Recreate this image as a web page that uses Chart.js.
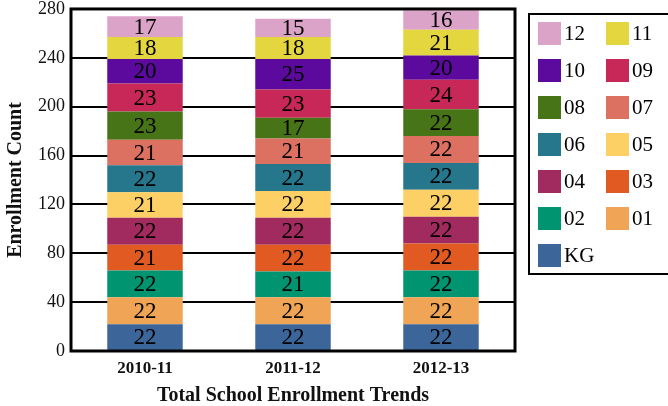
<!DOCTYPE html>
<html>
<head>
<meta charset="utf-8">
<script src="https://cdn.jsdelivr.net/npm/chart.js@4"></script>
<style>
  html, body { margin: 0; padding: 0; background: #fff; }
  #wrap { width: 668px; height: 406px; position: relative; }
</style>
</head>
<body>
<div id="wrap"><canvas id="enrollChart" width="668" height="406"></canvas></div>
<script>
const years = ["2010-11", "2011-12", "2012-13"];
const grades = ["KG", "01", "02", "03", "04", "05", "06", "07", "08", "09", "10", "11", "12"];
const gradeColors = ["#3c6699", "#f0a455", "#009471", "#e05a21", "#a12b5e", "#fdd066",
    "#26768c", "#dc7061", "#477416", "#c82858", "#5b0a9d", "#e4d63e", "#dba3c8"];

// counts per grade, one entry per school year
const kg = [22, 22, 22];
const g01 = [22, 22, 22];
const g02 = [22, 21, 22];
const g03 = [21, 22, 22];
const g04 = [22, 22, 22];
const g05 = [21, 22, 22];
const g06 = [22, 22, 22];
const g07 = [21, 21, 22];
const g08 = [23, 17, 22];
const g09 = [23, 23, 24];
const g10 = [20, 25, 20];
const g11 = [18, 18, 21];
const g12 = [17, 15, 16];
const gradeCounts = [kg, g01, g02, g03, g04, g05, g06, g07, g08, g09, g10, g11, g12];

const yTicks = [0, 40, 80, 120, 160, 200, 240, 280];

const serif = "'Liberation Serif', 'Times New Roman', serif";

// numbers in the middle of each segment
const segmentLabels = {
    id: "segmentLabels",
    afterDatasetsDraw(chart) {
        const c = chart.ctx;
        c.save();
        c.font = "23px " + serif;
        c.fillStyle = "#000";
        c.textAlign = "center";
        c.textBaseline = "middle";
        chart.data.datasets.forEach((ds, i) => {
            chart.getDatasetMeta(i).data.forEach((bar, j) => {
                const p = bar.getProps(["x", "y", "base"], true);
                c.fillText(ds.data[j], p.x, (p.y + p.base) / 2 + 1);
            });
        });
        c.restore();
    }
};

// thick frame round the plot area
const frame = {
    id: "frame",
    afterDatasetsDraw(chart) {
        const a = chart.chartArea;
        const c = chart.ctx;
        c.save();
        c.strokeStyle = "#000";
        c.lineWidth = 3;
        c.strokeRect(a.left, a.top, a.right - a.left, a.bottom - a.top);
        c.restore();
    }
};

// two-column legend box, top grade first
const pairLegend = {
    id: "pairLegend",
    afterDraw(chart) {
        const c = chart.ctx;
        const order = chart.data.datasets.map((d, i) => i).reverse();
        c.save();
        c.strokeStyle = "#000";
        c.lineWidth = 2;
        c.strokeRect(529, 14, 160, 260);
        c.font = "21px " + serif;
        c.textBaseline = "middle";
        c.textAlign = "left";
        order.forEach((idx, k) => {
            const col = k % 2;
            const row = Math.floor(k / 2);
            const x = 538 + col * 68;
            const y = 22 + row * 37;
            c.fillStyle = chart.data.datasets[idx].backgroundColor;
            c.fillRect(x, y, 23, 23);
            c.fillStyle = "#000";
            c.fillText(chart.data.datasets[idx].label, x + 26, y + 12);
        });
        c.restore();
    }
};

const ctx = document.getElementById("enrollChart").getContext("2d");
new Chart(ctx, {
    type: "bar",
    data: {
        labels: years,
        datasets: grades.map((g, i) => ({
            label: g,
            data: gradeCounts[i],
            backgroundColor: gradeColors[i],
            borderWidth: 0,
            barPercentage: 0.51,
            categoryPercentage: 1
        }))
    },
    options: {
        responsive: false,
        animation: false,
        layout: { padding: { left: 4, right: 153, top: 0, bottom: 0 } },
        plugins: {
            legend: { display: false },
            tooltip: { enabled: false }
        },
        scales: {
            x: {
                stacked: true,
                grid: { display: false, drawTicks: false },
                border: { display: false },
                ticks: { color: "#111", font: { family: serif, size: 17, weight: "bold" }, padding: 7 },
                title: {
                    display: true,
                    text: "Total School Enrollment Trends",
                    color: "#111",
                    font: { family: serif, size: 20, weight: "bold" },
                    padding: { top: 3, bottom: -2 }
                },
                afterFit(scale) {
                    scale.height = 55;
                }
            },
            y: {
                stacked: true,
                min: 0,
                max: 280,
                afterBuildTicks(scale) {
                    scale.ticks = yTicks.map(v => ({ value: v }));
                },
                grid: { color: "#000", lineWidth: 2, drawTicks: false },
                border: { display: false },
                ticks: { color: "#111", font: { family: serif, size: 18, lineHeight: 0.33 }, padding: 6 },
                title: {
                    display: true,
                    text: "Enrollment Count",
                    color: "#111",
                    font: { family: serif, size: 20, weight: "bold" },
                    padding: { top: 0, bottom: 4 }
                }
            }
        }
    },
    plugins: [segmentLabels, frame, pairLegend]
});
</script>
</body>
</html>
